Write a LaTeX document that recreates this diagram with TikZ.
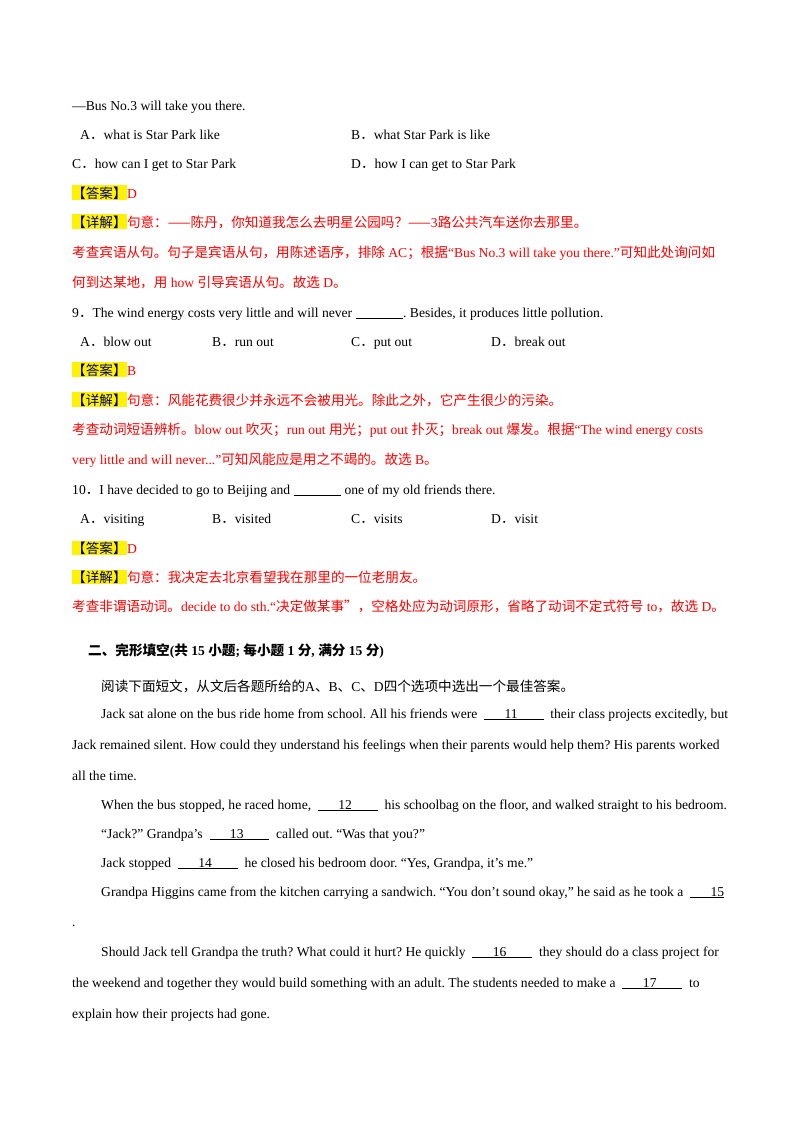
\documentclass[tikz,border=0pt]{standalone}
\usepackage{fontspec}
\setmainfont{Liberation Serif}
\newfontfamily\cjk{Noto Sans CJK SC}
\usetikzlibrary{positioning}
\frenchspacing
\newcommand{\zh}[1]{{\cjk #1}}
\newcommand{\gap}[1]{\underline{\hspace{1.5em}#1\hspace{1.9em}}}
\tikzset{
    line/.style={anchor=base west,inner sep=0pt,font=\fontsize{13.6pt}{15pt}\selectfont},
    redline/.style={line,text=red},
    tag/.style={line,fill=yellow,text=blue!40!black,inner ysep=1pt},
}
\begin{document}
\begin{tikzpicture}[x=1pt,y=-1pt]
    \useasboundingbox (0,0) rectangle (800,1132);
    % question 8, end
    \node[line] (q8) at (72,110) {---Bus No.3 will take you there.};
    \node[line] (q8a) at (80,139) {A\zh{．}what is Star Park like};
    \node[line] (q8b) at (351,139) {B\zh{．}what Star Park is like};
    \node[line] (q8c) at (72,168) {C\zh{．}how can I get to Star Park};
    \node[line] (q8d) at (351,168) {D\zh{．}how I can get to Star Park};
    \node[tag] (ans8) at (72,198) {\zh{【答案】}};
    \node[redline,anchor=base west] (ans8t) at (ans8.base east) {D};
    \node[tag] (exp8) at (72,227) {\zh{【详解】}};
    \node[redline,anchor=base west] (exp8t) at (exp8.base east) {\zh{句意：——陈丹，你知道我怎么去明星公园吗？——}3\zh{路公共汽车送你去那里。}};
    \node[redline] (exp8b) at (72,257) {\zh{考查宾语从句。句子是宾语从句，用陈述语序，排除} AC\zh{；根据}“Bus No.3 will take you there.”\zh{可知此处询问如}};
    \node[redline] (exp8c) at (72,287) {\zh{何到达某地，用} how \zh{引导宾语从句。故选} D\zh{。}};
    % question 9
    \node[line] (q9) at (72,317) {9\zh{．}The wind energy costs very little and will never \underline{\hspace{3.5em}}. Besides, it produces little pollution.};
    \node[line] (q9a) at (80,346) {A\zh{．}blow out};
    \node[line] (q9b) at (212,346) {B\zh{．}run out};
    \node[line] (q9c) at (351,346) {C\zh{．}put out};
    \node[line] (q9d) at (491,346) {D\zh{．}break out};
    \node[tag] (ans9) at (72,375) {\zh{【答案】}};
    \node[redline,anchor=base west] (ans9t) at (ans9.base east) {B};
    \node[tag] (exp9) at (72,405) {\zh{【详解】}};
    \node[redline,anchor=base west] (exp9t) at (exp9.base east) {\zh{句意：风能花费很少并永远不会被用光。除此之外，它产生很少的污染。}};
    \node[redline] (exp9b) at (72,434) {\zh{考查动词短语辨析。}blow out \zh{吹灭；}run out \zh{用光；}put out \zh{扑灭；}break out \zh{爆发。根据}“The wind energy costs};
    \node[redline] (exp9c) at (72,464) {very little and will never...”\zh{可知风能应是用之不竭的。故选} B\zh{。}};
    % question 10
    \node[line] (q10) at (72,494) {10\zh{．}I have decided to go to Beijing and \underline{\hspace{3.5em}} one of my old friends there.};
    \node[line] (q10a) at (80,523) {A\zh{．}visiting};
    \node[line] (q10b) at (212,523) {B\zh{．}visited};
    \node[line] (q10c) at (351,523) {C\zh{．}visits};
    \node[line] (q10d) at (491,523) {D\zh{．}visit};
    \node[tag] (ans10) at (72,553) {\zh{【答案】}};
    \node[redline,anchor=base west] (ans10t) at (ans10.base east) {D};
    \node[tag] (exp10) at (72,582) {\zh{【详解】}};
    \node[redline,anchor=base west] (exp10t) at (exp10.base east) {\zh{句意：我决定去北京看望我在那里的一位老朋友。}};
    \node[redline] (exp10b) at (72,611) {\zh{考查非谓语动词。}decide to do sth.“\zh{决定做某事”，空格处应为动词原形，省略了动词不定式符号} to\zh{，故选} D\zh{。}};
    % part two
    \node[line,font=\fontsize{13.6pt}{15pt}\selectfont\bfseries] (part2) at (88,655) {\zh{\bfseries 二、完形填空}(\zh{\bfseries 共} 15 \zh{\bfseries 小题}; \zh{\bfseries 每小题} 1 \zh{\bfseries 分}, \zh{\bfseries 满分} 15 \zh{\bfseries 分})};
    \node[line] (intro) at (101,691) {\zh{阅读下面短文，从文后各题所给的}A\zh{、}B\zh{、}C\zh{、}D\zh{四个选项中选出一个最佳答案。}};
    \node[line] (p1) at (101,718) {Jack sat alone on the bus ride home from school. All his friends were \ \gap{11} \ their class projects excitedly, but};
    \node[line] (p2) at (72,749) {Jack remained silent. How could they understand his feelings when their parents would help them? His parents worked};
    \node[line] (p3) at (72,780) {all the time.};
    \node[line] (p4) at (101,809) {When the bus stopped, he raced home, \ \gap{12} \ his schoolbag on the floor, and walked straight to his bedroom.};
    \node[line] (p5) at (101,838) {“Jack?” Grandpa’s \ \gap{13} \ called out. “Was that you?”};
    \node[line] (p6) at (101,867) {Jack stopped \ \gap{14} \ he closed his bedroom door. “Yes, Grandpa, it’s me.”};
    \node[line] (p7) at (101,896) {Grandpa Higgins came from the kitchen carrying a sandwich. “You don’t sound okay,” he said as he took a \ \underline{\hspace{1.5em}15}};
    \node[line] (p8) at (72,926) {.};
    \node[line] (p9) at (101,956) {Should Jack tell Grandpa the truth? What could it hurt? He quickly \ \gap{16} \ they should do a class project for};
    \node[line] (p10) at (72,987) {the weekend and together they would build something with an adult. The students needed to make a \ \gap{17} \ to};
    \node[line] (p11) at (72,1018) {explain how their projects had gone.};
\end{tikzpicture}
\end{document}
